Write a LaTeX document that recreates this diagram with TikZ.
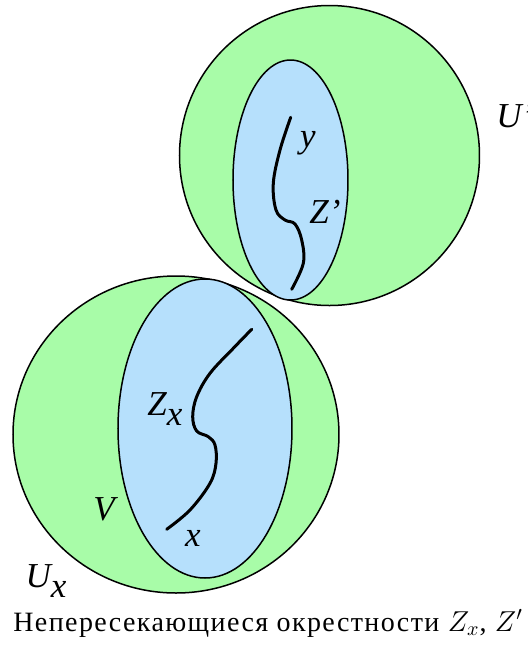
\documentclass[tikz,border=0pt]{standalone}
\usepackage{fontspec}
\usepackage{amsmath}
\usetikzlibrary{positioning}
\newfontfamily\lblfont{Liberation Serif}
\newfontfamily\capfont{Liberation Serif}[LetterSpace=5]
\definecolor{nbGreen}{HTML}{A8FCA8}
\definecolor{nbBlue}{HTML}{B6E0FC}
\tikzset{
  nbhd/.style={draw=black, line width=0.75pt, fill=nbGreen},
  inner/.style={draw=black, line width=0.75pt, fill=nbBlue},
  path/.style={draw=black, line width=1.5pt, line cap=round},
  lbl/.style={font=\fontsize{17.5}{20}\lblfont\itshape, inner sep=0pt, anchor=base},
  caption/.style={font=\fontsize{14}{16}\capfont, inner sep=0pt, anchor=base west}
}
\newcommand{\sub}[2]{#1\raisebox{-0.3em}{#2}}
\begin{document}
\begin{tikzpicture}[x=0.5pt, y=-0.5pt]
  \useasboundingbox (0,0) rectangle (528,645);
  % lower neighbourhood
  \draw[nbhd] (176,434.5) ellipse [x radius=163, y radius=158.5];
  \draw[inner] (205,428.5) ellipse [x radius=87, y radius=149.5];
  \draw[path] plot[smooth, tension=0.6] coordinates {
    (251.7,329.3) (233.3,348.3) (210,373.3) (196.7,396.7) (192.7,416.7)
    (196.7,431) (208.3,436.7) (215,445) (216,463.3) (210,483.3)
    (190,510) (166.7,529.3)};
  % upper neighbourhood
  \draw[nbhd] (329.5,155.5) circle [radius=150];
  \draw[inner] (290.5,180) ellipse [x radius=57.5, y radius=120];
  \draw[path] plot[smooth, tension=0.6] coordinates {
    (290.7,117.3) (280,150) (273.3,183.3) (276,210) (285,220)
    (295,224) (301.7,240) (303.3,263.3) (291.7,289.3)};
  % labels
  \node[lbl] (ly) at (308,147) {y};
  \node[lbl] (lzp) at (325,223) {Z’};
  \node[lbl, anchor=base west] (lup) at (496,127) {U’};
  \node[lbl] (lzx) at (165,415) {\sub{Z}{x}};
  \node[lbl] (lv) at (104,520) {V};
  \node[lbl] (lx) at (193,546) {x};
  \node[lbl] (lux) at (46,587) {\sub{U}{x}};
  \node[caption] (cap) at (13,631) {Непересекающиеся окрестности $Z_x$, $Z'$};
\end{tikzpicture}
\end{document}
